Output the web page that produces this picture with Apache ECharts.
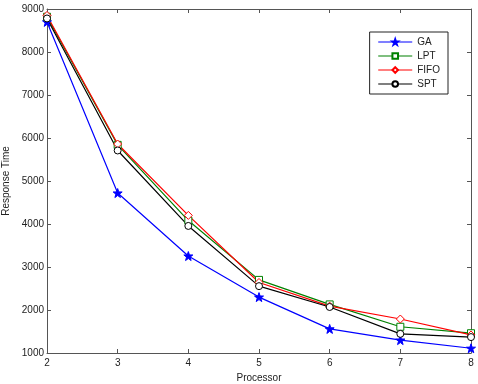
<!DOCTYPE html>
<html><head><meta charset="utf-8">
<script src="https://cdn.jsdelivr.net/npm/echarts@6/dist/echarts.min.js"></script>
<style>html,body{margin:0;padding:0;background:#fff}#c{width:478px;height:384px}</style>
</head><body><div id="c"></div>
<script>
const processors = [2, 3, 4, 5, 6, 7, 8];
const seriesNames = ['GA', 'LPT', 'FIFO', 'SPT'];
const gaValues   = [8700, 4720, 3255, 2300, 1560, 1300, 1110];
const lptValues  = [8820, 5840, 4080, 2700, 2130, 1610, 1460];
const fifoValues = [8850, 5860, 4200, 2640, 2090, 1790, 1420];
const sptValues  = [8780, 5710, 3955, 2555, 2070, 1445, 1370];
const yTicks = [1000, 2000, 3000, 4000, 5000, 6000, 7000, 8000, 9000];
const xTicks = [2, 3, 4, 5, 6, 7, 8];

const star = 'path://M0,-10 L2.35,-3.24 L9.51,-3.09 L3.8,1.24 L5.88,8.09 L0,4 L-5.88,8.09 L-3.8,1.24 L-9.51,-3.09 L-2.35,-3.24 Z';
const pairs = v => processors.map((p, i) => [p, v[i]]);
const font = 'Liberation Sans, Arial, sans-serif';
const frame = { lineStyle: { color: '#555', width: 1 } };

const chart = echarts.init(document.getElementById('c'));
const mk = (name, data, color, symbol, size, fill) => ({
  name, type: 'line', data: pairs(data), xAxisIndex: 0, yAxisIndex: 0,
  symbol, symbolSize: size, showAllSymbol: true,
  lineStyle: { color, width: 1.2 },
  itemStyle: { color: fill || '#fff', borderColor: color, borderWidth: 1 },
  emphasis: { disabled: true }, animation: false
});
chart.setOption({
  animation: false,
  backgroundColor: '#fff',
  textStyle: { fontFamily: font },
  grid: { left: 47, right: 7, top: 9, bottom: 31, containLabel: false, outerBoundsMode: 'none' },
  legend: {
    right: 30, top: 32, orient: 'vertical', itemGap: 4,
    itemWidth: 34, itemHeight: 7,
    backgroundColor: '#fff', borderColor: '#222', borderWidth: 1,
    padding: [5, 8, 5, 8],
    lineStyle: { width: 1.2 },
    textStyle: { fontSize: 10, color: '#222', fontFamily: font },
    data: seriesNames
  },
  xAxis: [
    { type: 'value', min: 2, max: 8, interval: 1, position: 'bottom',
      name: 'Processor', nameLocation: 'middle', nameGap: 18,
      nameTextStyle: { fontSize: 10, color: '#222' },
      axisLine: frame, axisTick: { inside: true, length: 4, lineStyle: { color: '#555' } },
      axisLabel: { fontSize: 10, color: '#222', margin: 5,
        customValues: xTicks },
      splitLine: { show: false } },
    { type: 'value', min: 2, max: 8, interval: 1, position: 'top',
      axisLine: frame, axisTick: { inside: true, length: 4, lineStyle: { color: '#555' } },
      axisLabel: { show: false }, splitLine: { show: false } }
  ],
  yAxis: [
    { type: 'value', min: 1000, max: 9000, interval: 1000, position: 'left',
      name: 'Response Time', nameLocation: 'middle', nameGap: 33, nameRotate: 90,
      nameTextStyle: { fontSize: 10, color: '#222' },
      axisLine: frame, axisTick: { inside: true, length: 4, lineStyle: { color: '#555' } },
      axisLabel: { fontSize: 10, color: '#222', margin: 3, customValues: yTicks,
        formatter: v => String(v) },
      splitLine: { show: false } },
    { type: 'value', min: 1000, max: 9000, interval: 1000, position: 'right',
      axisLine: frame, axisTick: { inside: true, length: 4, lineStyle: { color: '#555' } },
      axisLabel: { show: false }, splitLine: { show: false } }
  ],
  series: [
    mk('GA', gaValues, '#0000ff', star, 9, '#0000ff'),
    mk('LPT', lptValues, '#008000', 'rect', 7),
    mk('FIFO', fifoValues, '#ff0000', 'diamond', 8),
    mk('SPT', sptValues, '#000000', 'circle', 7)
  ]
});
</script></body></html>
